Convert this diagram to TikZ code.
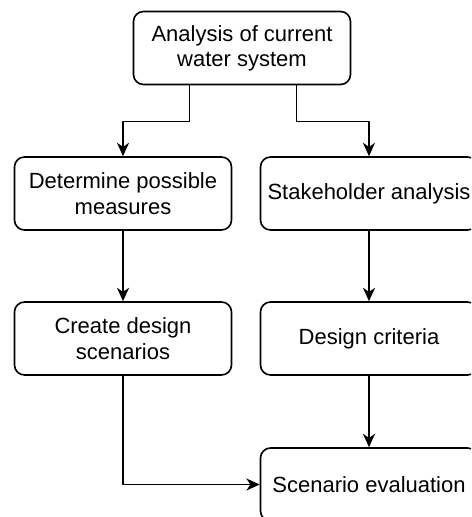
\documentclass[tikz,border=0pt]{standalone}
\usepackage{fontspec}
\setmainfont{Liberation Sans}
\usetikzlibrary{arrows.meta,calc}
\begin{document}
\begin{tikzpicture}[x=0.75pt,y=-0.75pt,line join=round,>={Stealth[length=10pt,width=9pt,inset=3pt]}]
	\tikzset{box/.style={draw,rounded corners=7.5pt,line width=1.2pt,minimum width=162.75pt,minimum height=54.75pt,inner sep=0pt,align=center,font=\fontsize{16.5}{19}\selectfont},
		arr/.style={->,line width=1.2pt}}
	\def\xl{123}\def\xr{369}
	\clip (0,0) rectangle (471,517);
	\node[box] (cur) at (242,48) {Analysis of current\\water system};
	\node[box] (meas) at (\xl,193.5) {Determine possible\\measures};
	\node[box] (stake) at (\xr,193.5) {Stakeholder analysis};
	\node[box] (scen) at (\xl,338.5) {Create design\\scenarios};
	\node[box] (crit) at (\xr,338.5) {Design criteria};
	\node[box] (eval) at (\xr,484.5) {Scenario evaluation};
	\coordinate (cl) at ($(cur.south west)!0.26!(cur.south east)$);
	\coordinate (cr) at ($(cur.south west)!0.75!(cur.south east)$);
	\draw[arr] (cl) -- ++(0,36) -| (meas.north);
	\draw[arr] (cr) -- ++(0,36) -| (stake.north);
	\draw[arr] (meas) -- (scen);
	\draw[arr] (stake) -- (crit);
	\draw[arr] (crit) -- (eval);
	\draw[arr] (scen.south) |- (eval.west);
\end{tikzpicture}
\end{document}
